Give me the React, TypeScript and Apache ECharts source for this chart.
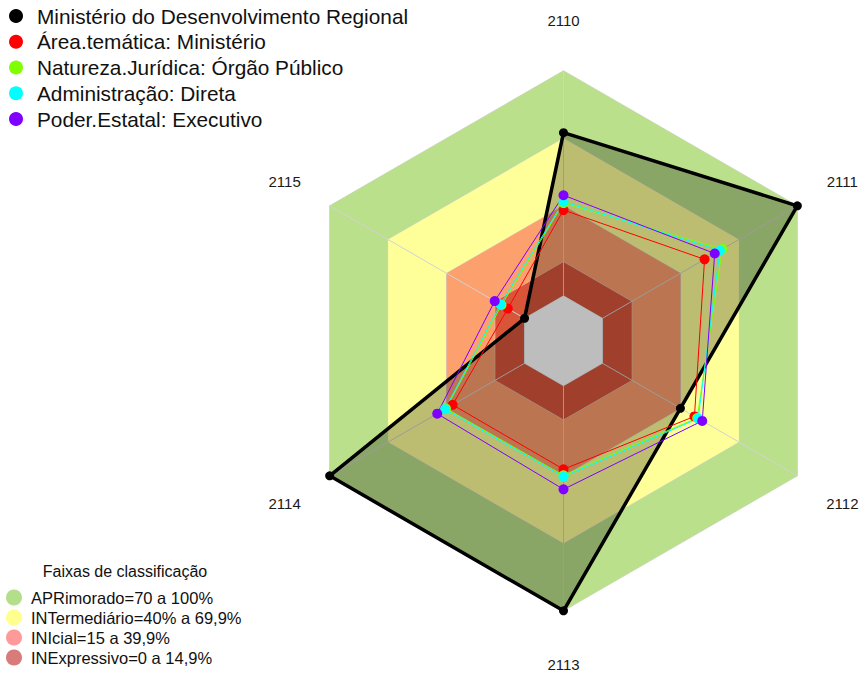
import { useEffect, useRef } from "react";
import * as echarts from "echarts";

// ---- data ----
const categories = ["2110", "2111", "2112", "2113", "2114", "2115"];
const seriesNames = [
  "Ministério do Desenvolvimento Regional",
  "Área.temática: Ministério",
  "Natureza.Jurídica: Órgão Público",
  "Administração: Direta",
  "Poder.Estatal: Executivo",
];
const ministerio = [72.5, 100, 40, 100, 100, 0];
const areaTematica = [38.1, 52.4, 47.2, 37.1, 36.9, 8.6];
const naturezaJuridica = [41.2, 61.5, 48.6, 39.8, 40.3, 11.8];
const administracao = [41.8, 60.3, 49.1, 40.4, 40.8, 12.4];
const poderEstatal = [44.7, 57.6, 51.2, 46.0, 44.8, 15.3];
const seriesColors = ["#000000", "#ff0000", "#80ff00", "#00ffff", "#8000ff"];

const bandTitle = "Faixas de classificação";
const bandNames = [
  "APRimorado=70 a 100%",
  "INTermediário=40% a 69,9%",
  "INIcial=15 a 39,9%",
  "INExpressivo=0 a 14,9%",
];
const bandUpper = [100, 70, 40, 15];
const bandColors = ["#bae08c", "#ffff99", "#fca06e", "#d8553a"];
const bandLegendColors = ["#b3de8a", "#ffff8f", "#ff9a9a", "#d97b7b"];
const centerValue = 0;
const axisMin = -20;
const axisMax = 100;

const FONT = "'Liberation Sans', Arial, sans-serif";

export default function App() {
  const ref = useRef<HTMLDivElement>(null);
  useEffect(() => {
    if (!ref.current) return;
    const chart = echarts.init(ref.current, undefined, { renderer: "svg" });
    const cx = 563.5;
    const cy = 340.8;
    const R = 270;
    // ECharts radar runs counter-clockwise; reference runs clockwise
    const order = [0, 5, 4, 3, 2, 1];
    const ro = (arr: number[]) => order.map((i) => arr[i]);
    const n = categories.length;
    const full = (v: number) => categories.map(() => v);

    const dataSets = [ministerio, areaTematica, naturezaJuridica, administracao, poderEstatal];

    const labelGraphics = categories.map((c, i) => {
      const a = ((90 - (i * 360) / n) * Math.PI) / 180;
      return {
        type: "text",
        x: cx + 322 * Math.cos(a),
        y: cy - 322 * Math.sin(a) + 1.5,
        style: {
          text: c,
          font: `15px ${FONT}`,
          fill: "#1a1a1a",
          textAlign: "center",
          textVerticalAlign: "middle",
        },
      };
    });

    const option: any = {
      animation: false,
      radar: {
        center: [cx, cy],
        radius: R,
        startAngle: 90,
        shape: "polygon",
        z: 1.5,
        indicator: ro(categories.map((_, i) => i)).map((i) => ({
          name: categories[i],
          min: axisMin,
          max: axisMax,
        })),
        axisName: { show: false },
        splitLine: { show: false },
        splitArea: { show: false },
        axisLine: { lineStyle: { color: "#d2d2d2", width: 1 } },
        axisTick: { show: false },
        axisLabel: { show: false },
      },
      legend: [
        {
          orient: "vertical",
          left: 9,
          top: 5.5,
          padding: 0,
          itemWidth: 32,
          itemHeight: 14,
          itemGap: 4.75,
          icon: "circle",
          selectedMode: false,
          textStyle: { fontSize: 20.8, lineHeight: 21, fontFamily: FONT, color: "#111" },
          data: seriesNames,
        },
        {
          orient: "vertical",
          left: 6,
          top: 589,
          height: 86,
          padding: 0,
          itemWidth: 24,
          itemHeight: 16,
          itemGap: 3,
          icon: "circle",
          selectedMode: false,
          textStyle: { fontSize: 16.5, lineHeight: 17, fontFamily: FONT, color: "#111" },
          data: bandNames.map((b, i) => ({ name: b, itemStyle: { color: bandLegendColors[i] } })),
        },
      ],
      graphic: [
        ...labelGraphics,
        {
          type: "text",
          x: 125,
          y: 571,
          style: {
            text: bandTitle,
            font: `16px ${FONT}`,
            fill: "#111",
            textAlign: "center",
            textVerticalAlign: "middle",
          },
        },
      ],
      series: [
        {
          type: "radar",
          z: 1,
          silent: true,
          symbol: "none",
          data: bandNames.map((b, i) => ({
            name: b,
            value: full(bandUpper[i]),
            lineStyle: { color: "#d2d2d2", width: 1 },
            areaStyle: { color: bandColors[i], opacity: 1 },
          })),
        },
        {
          type: "radar",
          name: "centro",
          z: 1.6,
          silent: true,
          symbol: "none",
          data: [
            {
              value: full(centerValue),
              lineStyle: { color: "#d2d2d2", width: 1 },
              areaStyle: { color: "#ffffff", opacity: 1 },
            },
          ],
        },
        ...dataSets.map((d, k) => ({
          type: "radar",
          z: 2,
          silent: true,
          symbol: "circle",
          symbolSize: k === 0 ? 9 : 10,
          data: [
            {
              name: seriesNames[k],
              value: ro(d),
              itemStyle: { color: seriesColors[k] },
              lineStyle: { color: seriesColors[k], width: k === 0 ? 3.5 : 1 },
              ...(k === 0 ? { areaStyle: { color: "rgba(0,0,0,0.26)", opacity: 1 } } : {}),
            },
          ],
        })),
      ],
    };
    chart.setOption(option);
    return () => chart.dispose();
  }, []);
  return (
    <div
      ref={ref}
      style={{ position: "absolute", left: 0, top: 0, width: 863, height: 675, background: "#fff" }}
    />
  );
}
